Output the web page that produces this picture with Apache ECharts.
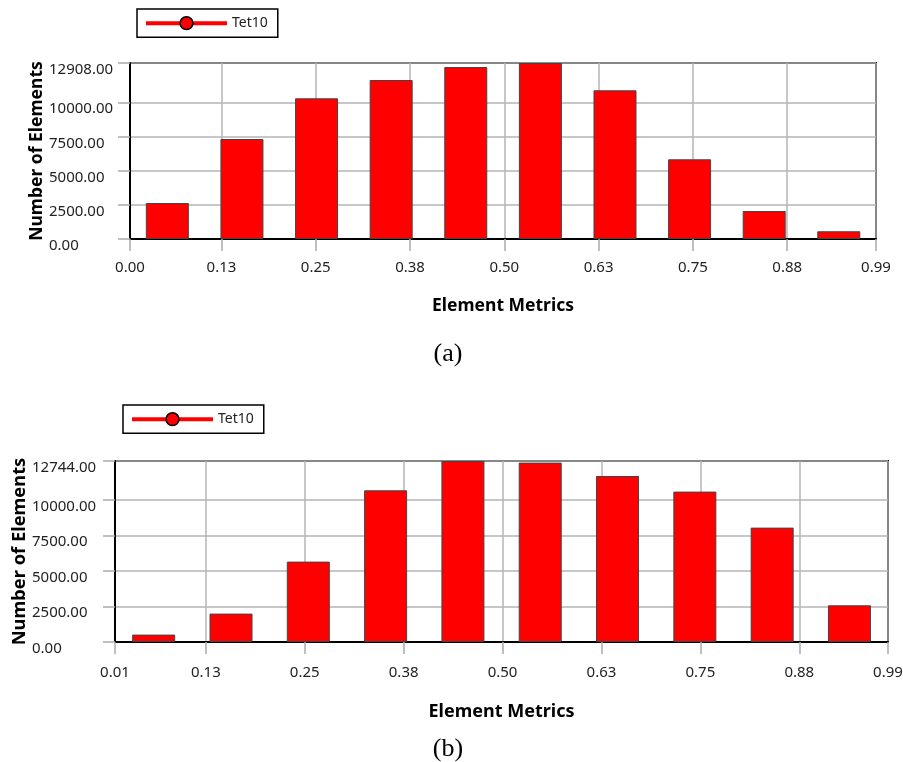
<!DOCTYPE html>
<html><head><meta charset="utf-8">
<script src="https://cdn.jsdelivr.net/npm/echarts@6/dist/echarts.min.js"></script>
<style>html,body{margin:0;padding:0;background:#fff}#c{width:903px;height:762px}</style>
</head><body><div id="c"></div>
<script>
const seriesName = 'Tet10';
const xTitle = 'Element Metrics';
const yTitle = 'Number of Elements';
const captions = ['(a)', '(b)'];

// Chart (a)
const xRangeA = [0.0038, 0.9927];
const binCentersA = [0.0533, 0.1522, 0.2511, 0.3500, 0.4489, 0.5478, 0.6467, 0.7456, 0.8445, 0.9434];
const countsA = [2640, 7334, 10319, 11661, 12614, 12908, 10905, 5845, 2053, 565];
const xTicksA = [0.0038, 0.125, 0.25, 0.375, 0.5, 0.625, 0.75, 0.875, 0.9927];
const xTickLabelsA = ['0.00', '0.13', '0.25', '0.38', '0.50', '0.63', '0.75', '0.88', '0.99'];
const yTicksA = [0, 2500, 5000, 7500, 10000, 12908];

// Chart (b)
const xRangeB = [0.0102, 0.9871];
const binCentersB = [0.0591, 0.1568, 0.2545, 0.3522, 0.4499, 0.5476, 0.6453, 0.7430, 0.8407, 0.9384];
const countsB = [521, 2000, 5660, 10680, 12744, 12630, 11687, 10589, 8054, 2584];
const xTicksB = [0.0102, 0.125, 0.25, 0.375, 0.5, 0.625, 0.75, 0.875, 0.9871];
const xTickLabelsB = ['0.01', '0.13', '0.25', '0.38', '0.50', '0.63', '0.75', '0.88', '0.99'];
const yTicksB = [0, 2500, 5000, 7500, 10000, 12744];

const FONT = 'Noto Sans';
const RED = '#ff0000';

function nearestLabel(ticks, labels, v) {
  let best = 0;
  for (let i = 1; i < ticks.length; i++) {
    if (Math.abs(ticks[i] - v) < Math.abs(ticks[best] - v)) best = i;
  }
  return labels[best];
}

function xAxisCfg(gi, range, ticks, labels, gap, margin, nameSize) {
  return {
    type: 'value', gridIndex: gi, min: range[0], max: range[1],
    axisLine: {show: true, onZero: false, lineStyle: {color: '#000', width: 2}},
    axisTick: {show: true, customValues: ticks, length: 12, lineStyle: {color: '#aaaaaa', width: 1.5}},
    axisLabel: {customValues: ticks, margin: margin, fontSize: 15, color: '#222', fontFamily: FONT,
      formatter: v => nearestLabel(ticks, labels, v)},
    splitLine: {show: true, lineStyle: {color: '#b5b5b5', width: 1.5}},
    name: xTitle, nameLocation: 'middle', nameGap: gap, nameMoveOverlap: false,
    nameTextStyle: {fontSize: nameSize, fontWeight: 'bold', color: '#000', fontFamily: FONT}
  };
}
function yAxisCfg(gi, ticks, gap, margin, nameSize) {
  return {
    type: 'value', gridIndex: gi, min: 0, max: ticks[ticks.length - 1],
    axisLine: {show: true, lineStyle: {color: '#000', width: 2}},
    axisTick: {show: true, customValues: ticks, length: 12, lineStyle: {color: '#aaaaaa', width: 1.5}},
    axisLabel: {customValues: ticks, margin: margin, align: 'left', verticalAlign: 'top', lineHeight: 13,
      fontSize: 15, color: '#222', fontFamily: FONT, formatter: v => v.toFixed(2)},
    splitLine: {show: true, lineStyle: {color: '#b5b5b5', width: 1.5}},
    name: yTitle, nameLocation: 'middle', nameGap: gap, nameMoveOverlap: false,
    nameTextStyle: {fontSize: nameSize, fontWeight: 'bold', color: '#000', fontFamily: FONT}
  };
}
function legendCfg(left, top) {
  return {
    data: [seriesName], left: left, top: top, orient: 'horizontal',
    itemWidth: 81, itemHeight: 16, padding: [7, 10, 7, 7],
    borderColor: '#000', borderWidth: 1.5, borderRadius: 0,
    lineStyle: {width: 4, color: RED},
    itemStyle: {color: RED, borderColor: '#000', borderWidth: 1.5},
    textStyle: {fontSize: 14, color: '#222', fontFamily: FONT}
  };
}
function legendLine(xi) {
  return {type: 'line', name: seriesName, xAxisIndex: xi, yAxisIndex: xi, data: [],
    symbol: 'circle', symbolSize: 12, lineStyle: {color: RED, width: 4},
    itemStyle: {color: RED, borderColor: '#000', borderWidth: 1.5}};
}
function bars(xi, centers, counts) {
  return {type: 'bar', name: seriesName, xAxisIndex: xi, yAxisIndex: xi,
    data: centers.map((c, i) => [c, counts[i]]), barWidth: 43,
    itemStyle: {color: RED, borderColor: '#444', borderWidth: 1}};
}

const chart = echarts.init(document.getElementById('c'), null, {renderer: 'canvas'});
chart.setOption({
  animation: false,
  backgroundColor: '#fff',
  legend: [legendCfg(137, 9), legendCfg(123, 405)],
  grid: [
    {left: 130, top: 63, width: 746, height: 176, show: true, borderColor: '#000', borderWidth: 2, containLabel: false, outerBoundsMode: 'none'},
    {left: 115, top: 461, width: 773, height: 181, show: true, borderColor: '#000', borderWidth: 2, containLabel: false, outerBoundsMode: 'none'}
  ],
  xAxis: [xAxisCfg(0, xRangeA, xTicksA, xTickLabelsA, 58, 21, 17.5), xAxisCfg(1, xRangeB, xTicksB, xTickLabelsB, 61, 23, 18)],
  yAxis: [yAxisCfg(0, yTicksA, 84, 81, 17.5), yAxisCfg(1, yTicksB, 86, 83, 18.3)],
  series: [legendLine(0), bars(0, binCentersA, countsA), legendLine(1), bars(1, binCentersB, countsB)],
  graphic: [
    {type: 'text', x: 448, y: 354, style: {text: captions[0], align: 'center', verticalAlign: 'middle', fontSize: 26, fontFamily: 'Liberation Serif', fill: '#000'}},
    {type: 'text', x: 448, y: 749, style: {text: captions[1], align: 'center', verticalAlign: 'middle', fontSize: 26, fontFamily: 'Liberation Serif', fill: '#000'}}
  ]
});
</script></body></html>
